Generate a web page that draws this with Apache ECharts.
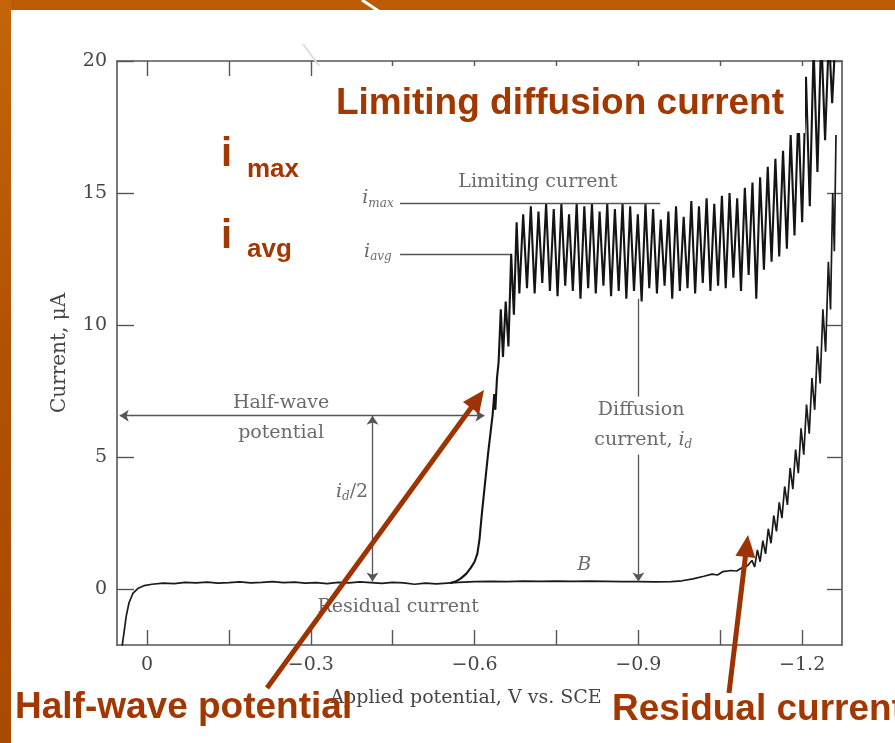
<!DOCTYPE html>
<html>
<head>
<meta charset="utf-8">
<script src="https://cdn.jsdelivr.net/npm/echarts@6.0.0/dist/echarts.min.js"></script>
<style>
html,body{margin:0;padding:0;background:#ffffff;}
#chart{width:895px;height:743px;}
</style>
</head>
<body>
<div id="chart"></div>
<script>
// ---------------- data ----------------
const xTickValues = [0, -0.15, -0.3, -0.45, -0.6, -0.75, -0.9, -1.05, -1.2];
const xLabelValues = [0, -0.3, -0.6, -0.9, -1.2];
const yLabelValues = [0, 5, 10, 15, 20];
const yRightTicks = [0, 5, 10, 15, 20];

// residual current (blank) trace
const residualV = [0.046,0.042,0.038,0.033,0.026,0.016,0.005,-0.009,-0.03,-0.05,-0.07,-0.09,-0.11,-0.13,-0.15,-0.17,-0.19,-0.21,-0.23,-0.25,-0.27,-0.29,-0.31,-0.33,-0.35,-0.37,-0.39,-0.41,-0.43,-0.45,-0.47,-0.49,-0.51,-0.53,-0.55,-0.57,-0.6,-0.63,-0.66,-0.69,-0.72,-0.75,-0.78,-0.81,-0.84,-0.87,-0.9,-0.93,-0.96,-0.98,-1.0,-1.02,-1.035,-1.045,-1.055,-1.07,-1.08,-1.09,-1.1,-1.108,-1.113,-1.118,-1.123,-1.128,-1.133,-1.138,-1.143,-1.148,-1.153,-1.158,-1.163,-1.168,-1.173,-1.178,-1.183,-1.188,-1.193,-1.198,-1.203,-1.208,-1.213,-1.218,-1.223,-1.228,-1.233,-1.238,-1.243,-1.248,-1.252,-1.256,-1.259,-1.262];
const residualI = [-2.2,-1.6,-1.0,-0.5,-0.15,0.05,0.15,0.2,0.24,0.22,0.27,0.25,0.28,0.24,0.26,0.29,0.25,0.27,0.3,0.26,0.28,0.24,0.26,0.22,0.27,0.25,0.29,0.26,0.23,0.27,0.25,0.2,0.24,0.21,0.24,0.27,0.3,0.31,0.3,0.32,0.31,0.32,0.31,0.32,0.31,0.3,0.3,0.29,0.3,0.33,0.4,0.5,0.58,0.55,0.68,0.72,0.7,0.82,0.9,1.1,0.85,1.5,1.05,1.85,1.35,2.3,1.75,2.8,2.2,3.3,2.7,3.9,3.2,4.6,3.8,5.3,4.4,6.1,5.1,7.0,5.9,8.0,6.8,9.2,7.8,10.6,9.0,12.4,10.6,15.0,12.8,17.2];

// polarographic wave (analyte) trace
const analyteV = [-0.555,-0.565,-0.575,-0.585,-0.593,-0.6,-0.605,-0.609,-0.613,-0.617,-0.621,-0.625,-0.629,-0.633,-0.636,-0.638,-0.641,-0.644,-0.648,-0.652,-0.657,-0.662,-0.667,-0.672,-0.677,-0.682,
-0.689,-0.696,-0.703,-0.71,-0.717,-0.724,-0.731,-0.738,-0.745,-0.752,-0.759,-0.766,-0.773,-0.78,-0.787,-0.794,-0.801,-0.808,-0.815,-0.822,-0.829,-0.836,-0.843,-0.85,-0.857,-0.864,-0.871,-0.878,-0.885,-0.892,-0.899,-0.906,-0.913,-0.92,-0.927,-0.934,-0.941,-0.948,-0.955,-0.962,-0.969,-0.976,-0.983,-0.99,-0.997,-1.004,-1.011,-1.018,-1.025,-1.032,-1.039,-1.046,-1.053,-1.06,-1.067,-1.074,-1.081,-1.088,-1.095,-1.102,-1.109,-1.116,-1.123,-1.13,-1.137,-1.144,-1.151,-1.158,-1.165,-1.172,-1.179,-1.186,-1.193,-1.2,-1.207,-1.214,-1.221,-1.228,-1.235,-1.242,-1.249,-1.255,-1.26];
const analyteI = [0.25,0.3,0.42,0.6,0.82,1.05,1.35,1.9,2.8,3.6,4.4,5.2,5.9,6.6,7.4,6.8,8.0,8.6,10.6,8.8,10.9,9.2,12.7,10.4,13.9,11.2,
14.2,11.4,14.5,11.2,14.3,11.6,14.6,11.3,14.4,11.1,14.6,11.5,14.2,11.3,14.6,11.0,14.5,11.4,14.6,11.2,14.3,11.5,14.6,11.1,14.4,11.3,14.6,11.0,14.5,11.3,14.2,10.9,14.6,11.4,14.4,11.2,14.0,11.5,14.3,11.0,14.5,11.3,14.1,11.4,14.7,11.2,14.5,11.6,14.8,11.3,14.6,11.5,14.9,11.4,15.0,11.8,14.8,11.3,15.2,11.9,15.4,11.0,15.6,12.1,16.0,12.4,16.3,12.6,16.6,12.9,17.2,13.4,18.0,13.9,19.4,14.5,20.5,15.8,21.0,17.0,21.0,18.4,20.5];

// guide lines of the original figure (potential V, current uA)
const guideFrom = [[-0.4635,14.6],[-0.4635,12.7],[0.05,6.58],[-0.413,6.58],[-0.9,11.0],[-0.9,5.1]];
const guideTo   = [[-0.94,14.6],[-0.665,12.7],[-0.618,6.58],[-0.413,0.3],[-0.9,7.3],[-0.9,0.3]];
const guideStartSymbol = ['none','none','arrow','arrow','none','none'];
const guideEndSymbol   = ['none','none','arrow','arrow','none','arrow'];

// text labels of the original figure
const figLabelText = ['Limiting current','{i|i}{s|max}','{i|i}{s|avg}','Half-wave','potential','{i|i}{s|d}/2','Diffusion','current, {i|i}{s|d}','{i|B}','Residual current'];
const figLabelPos = [[-0.716,15.4],[-0.423,14.8],[-0.423,12.76],[-0.2455,7.07],[-0.2455,5.93],[-0.3756,3.7],[-0.905,6.8],[-0.909,5.67],[-0.8007,0.93],[-0.46,-0.66]];

// slide annotations
const slideTitle = 'Limiting diffusion current';
const slideBottomLeft = 'Half-wave potential';
const slideBottomRight = 'Residual current';

// ---------------- chart ----------------
const chart = echarts.init(document.getElementById('chart'), null, {renderer: 'canvas'});
const zip = (a, b) => a.slice(0, Math.min(a.length, b.length)).map((v, k) => [v, b[k]]);
const serif = "'DejaVu Serif','Liberation Serif',serif";
const sans = "'Liberation Sans',Arial,sans-serif";
const ink = '#454545';
const axisInk = '#555555';
const slideInk = '#A23800';
const fmtV = v => (v === 0 ? '0' : String(v).replace('-', '\u2212'));

function arrow(x1, y1, x2, y2, w, hl, hw, color) {
  const dx = x2 - x1, dy = y2 - y1, L = Math.hypot(dx, dy), ux = dx / L, uy = dy / L;
  const bx = x2 - ux * hl, by = y2 - uy * hl;
  return [
    {type: 'line', silent: true, z: 100, shape: {x1: x1, y1: y1, x2: bx + ux * 2, y2: by + uy * 2}, style: {stroke: color, lineWidth: w}},
    {type: 'polygon', silent: true, z: 100, shape: {points: [[x2, y2], [bx - uy * hw, by + ux * hw], [bx + uy * hw, by - ux * hw]]}, style: {fill: color}}
  ];
}

const richSet = {
  i: {fontFamily: serif, fontStyle: 'italic', fontSize: 19, color: ink, lineHeight: 22},
  s: {fontFamily: serif, fontStyle: 'italic', fontSize: 12, color: ink, lineHeight: 12, verticalAlign: 'bottom'}
};

const graphics = [
  // slide frame
  {type: 'rect', silent: true, z: 200, shape: {x: 0, y: 0, width: 895, height: 10}, style: {fill: '#BC5B03'}},
  {type: 'rect', silent: true, z: 200, shape: {x: 0, y: 0, width: 11, height: 743},
    style: {fill: new echarts.graphic.LinearGradient(0, 0, 0, 1, [{offset: 0, color: '#C4650A'}, {offset: 0.5, color: '#B25002'}, {offset: 1, color: '#A84A00'}])}},
  {type: 'line', silent: true, z: 201, shape: {x1: 362, y1: 0, x2: 380, y2: 12}, style: {stroke: '#ffffff', lineWidth: 3}},
  {type: 'line', silent: true, z: 99, shape: {x1: 303, y1: 44, x2: 320, y2: 67}, style: {stroke: '#dddddd', lineWidth: 2}},
  // title box
  {type: 'rect', silent: true, z: 99, shape: {x: 316, y: 66, width: 489, height: 67}, style: {fill: '#ffffff'}},
  {type: 'text', silent: true, z: 100, x: 560, y: 104, style: {text: slideTitle, fontFamily: sans, fontWeight: 'bold', fontSize: 37, fill: slideInk, align: 'center', verticalAlign: 'middle'}},
  // i max / i avg
  {type: 'text', silent: true, z: 100, x: 221, y: 155, style: {text: 'i', fontFamily: sans, fontWeight: 'bold', fontSize: 40, fill: slideInk, align: 'left', verticalAlign: 'middle'}},
  {type: 'text', silent: true, z: 100, x: 247, y: 170, style: {text: 'max', fontFamily: sans, fontWeight: 'bold', fontSize: 26, fill: slideInk, align: 'left', verticalAlign: 'middle'}},
  {type: 'text', silent: true, z: 100, x: 221, y: 237, style: {text: 'i', fontFamily: sans, fontWeight: 'bold', fontSize: 40, fill: slideInk, align: 'left', verticalAlign: 'middle'}},
  {type: 'text', silent: true, z: 100, x: 247, y: 250, style: {text: 'avg', fontFamily: sans, fontWeight: 'bold', fontSize: 26, fill: slideInk, align: 'left', verticalAlign: 'middle'}},
  // bottom annotations
  {type: 'text', silent: true, z: 100, x: 15, y: 708, style: {text: slideBottomLeft, fontFamily: sans, fontWeight: 'bold', fontSize: 37, fill: slideInk, align: 'left', verticalAlign: 'middle'}},
  {type: 'text', silent: true, z: 100, x: 612, y: 710, style: {text: slideBottomRight, fontFamily: sans, fontWeight: 'bold', fontSize: 37, fill: slideInk, align: 'left', verticalAlign: 'middle'}}
].concat(arrow(267, 688, 484, 390, 5, 22, 10, '#9C3300'))
 .concat(arrow(729, 693, 748, 535, 5, 22, 10, '#9C3300'));

const option = {
  backgroundColor: '#ffffff',
  animation: false,
  grid: {left: 117, right: 53, top: 61, bottom: 98, containLabel: false},
  xAxis: [
    {
      type: 'value', min: -1.273, max: 0.055, inverse: true, position: 'bottom',
      axisLine: {show: true, onZero: false, lineStyle: {color: axisInk, width: 1.6}},
      axisTick: {show: true, inside: true, length: 15, customValues: xTickValues, lineStyle: {color: axisInk, width: 1.4}},
      axisLabel: {show: true, customValues: xLabelValues, formatter: fmtV, color: ink, fontFamily: serif, fontSize: 19, margin: 11},
      splitLine: {show: false},
      name: 'Applied potential, V vs. SCE', nameLocation: 'middle', nameGap: 44,
      nameTextStyle: {color: ink, fontFamily: serif, fontSize: 19, padding: [0, 27, 0, 0]}
    },
    {
      type: 'value', min: -1.273, max: 0.055, inverse: true, position: 'top',
      axisLine: {show: true, onZero: false, lineStyle: {color: axisInk, width: 1.6}},
      axisTick: {show: true, inside: true, length: 15, customValues: xTickValues, lineStyle: {color: axisInk, width: 1.4}},
      axisLabel: {show: false},
      splitLine: {show: false}
    }
  ],
  yAxis: [
    {
      type: 'value', min: -2.1, max: 20, position: 'left',
      axisLine: {show: true, onZero: false, lineStyle: {color: axisInk, width: 1.6}},
      axisTick: {show: true, inside: true, length: 17, customValues: yLabelValues, lineStyle: {color: axisInk, width: 1.4}},
      axisLabel: {show: true, customValues: yLabelValues, color: ink, fontFamily: serif, fontSize: 19, margin: 10},
      splitLine: {show: false},
      name: 'Current, \u03bcA', nameLocation: 'middle', nameRotate: 90, nameGap: 47,
      nameTextStyle: {color: ink, fontFamily: serif, fontSize: 20}
    },
    {
      type: 'value', min: -2.1, max: 20, position: 'right',
      axisLine: {show: true, onZero: false, lineStyle: {color: axisInk, width: 1.6}},
      axisTick: {show: true, inside: true, length: 15, customValues: yRightTicks, lineStyle: {color: axisInk, width: 1.4}},
      axisLabel: {show: false},
      splitLine: {show: false}
    }
  ],
  series: [
    {
      name: 'Residual', type: 'line', xAxisIndex: 0, yAxisIndex: 0,
      data: zip(residualV, residualI), showSymbol: false, symbol: 'none', silent: true, clip: true,
      lineStyle: {color: '#1a1a1a', width: 1.7},
      markLine: {
        silent: true, animation: false, symbolSize: 9,
        label: {show: false},
        lineStyle: {color: '#555555', width: 1.3, type: 'solid'},
        emphasis: {disabled: true},
        data: guideFrom.map((p, k) => [
          {coord: p, symbol: guideStartSymbol[k]},
          {coord: guideTo[k], symbol: guideEndSymbol[k]}
        ])
      }
    },
    {
      name: 'Wave', type: 'line', xAxisIndex: 0, yAxisIndex: 0,
      data: zip(analyteV, analyteI), showSymbol: false, symbol: 'none', silent: true, clip: true,
      lineStyle: {color: '#141414', width: 2.1}
    },
    {
      name: 'Labels', type: 'scatter', xAxisIndex: 0, yAxisIndex: 0, silent: true, clip: false,
      symbolSize: 1, itemStyle: {color: 'rgba(0,0,0,0)'},
      data: figLabelPos.map((p, k) => ({
        value: p,
        label: {
          show: true, position: 'inside', formatter: figLabelText[k],
          fontFamily: serif, fontSize: 19, color: ink, lineHeight: 22, rich: richSet
        }
      }))
    }
  ],
  graphic: graphics
};

chart.setOption(option);
</script>
</body>
</html>
